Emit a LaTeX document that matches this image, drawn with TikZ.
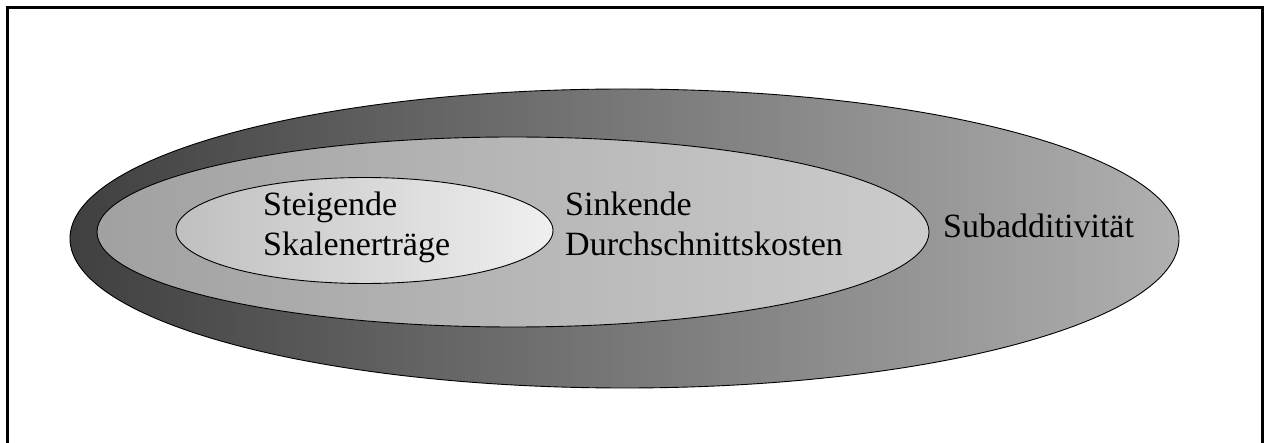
\documentclass[tikz,border=0pt]{standalone}
\usepackage{fontspec}
\setmainfont{Liberation Serif}
\usetikzlibrary{shapes.geometric}
\usetikzlibrary{positioning}

\begin{document}
\begin{tikzpicture}[
        x=1pt, y=-1pt,
        setnode/.style={ellipse, draw=black, line width=0.9pt, inner sep=0pt},
        lbl/.style={inner sep=0pt, align=left, font=\fontsize{34}{39.5}\selectfont}
    ]
        \useasboundingbox (0,0) rectangle (1264,443);
        \fill[white] (0,0) rectangle (1264,443);
        \draw[line width=3pt] (7.5,443) -- (7.5,7.5) -- (1262.5,7.5) -- (1262.5,443);

        \node[setnode, minimum width=1109pt, minimum height=299pt,
            left color=black!75, middle color=black!45, right color=black!31] (S) at (624.5,238.5) {};
        \node[setnode, minimum width=832pt, minimum height=190pt,
            left color=black!37, right color=black!20] (D) at (513,232) {};
        \node[setnode, minimum width=377pt, minimum height=106pt,
            left color=black!25, right color=black!6] (K) at (364.5,230.5) {};

        \node[lbl, anchor=north west] (Kt) at (263,192) {Steigende\\Skalenerträge};
        \node[lbl, anchor=north west] (Dt) at (565,192) {Sinkende\\Durchschnittskosten};
        \node[lbl, anchor=base west] (St) at (943,238) {Subadditivität};
\end{tikzpicture}
\end{document}
